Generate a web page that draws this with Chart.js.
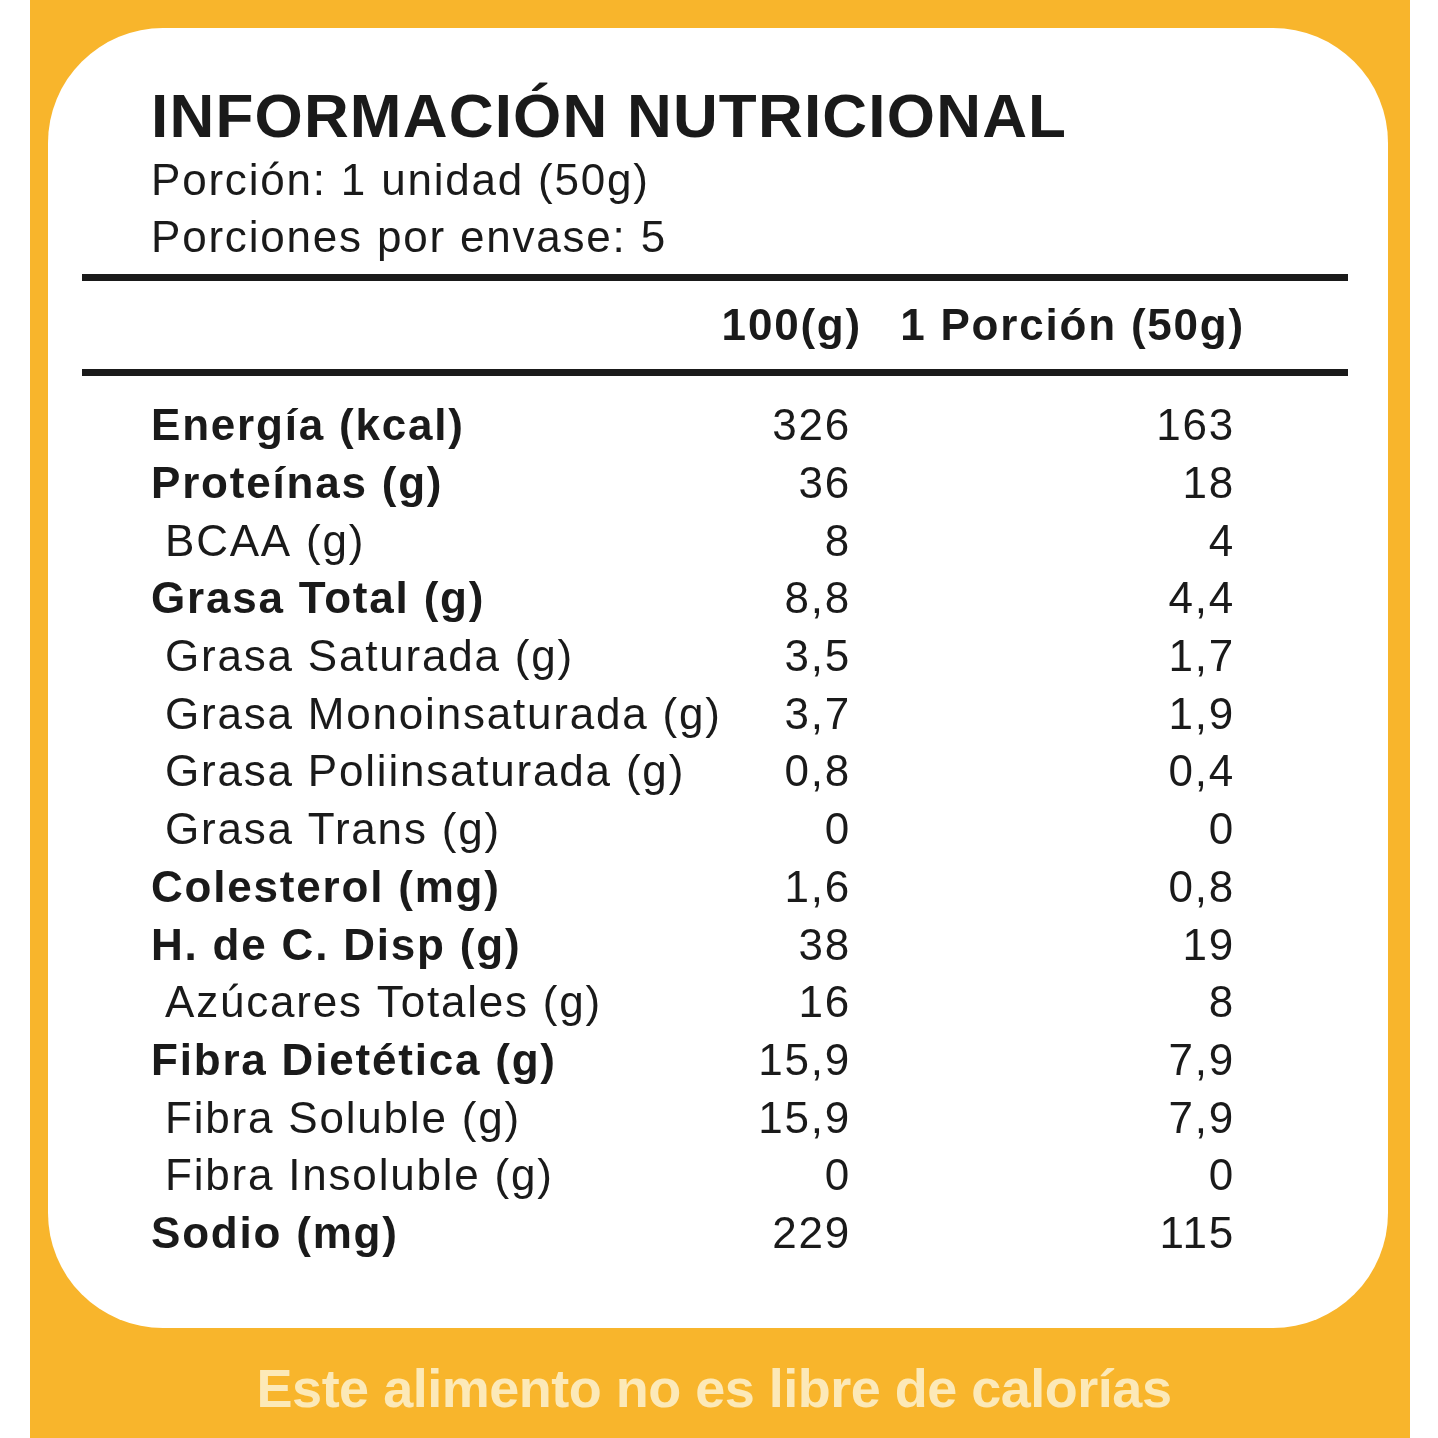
<!DOCTYPE html>
<html><head><meta charset="utf-8">
<script src="https://cdn.jsdelivr.net/npm/chart.js@4"></script>
<style>html,body{margin:0;padding:0;background:#fff}#w{width:1438px;height:1438px}</style>
</head><body><div id="w"><canvas id="c" width="1438" height="1438"></canvas></div>
<script>
const title = "INFORMACIÓN NUTRICIONAL";
const subtitle = ["Porción: 1 unidad (50g)", "Porciones por envase: 5"];
const columns = ["100(g)", "1 Porción (50g)"];
const nutrients = ["Energía (kcal)","Proteínas (g)","BCAA (g)","Grasa Total (g)","Grasa Saturada (g)","Grasa Monoinsaturada (g)","Grasa Poliinsaturada (g)","Grasa Trans (g)","Colesterol (mg)","H. de C. Disp (g)","Azúcares Totales (g)","Fibra Dietética (g)","Fibra Soluble (g)","Fibra Insoluble (g)","Sodio (mg)"];
const boldRows = [true,true,false,true,false,false,false,false,true,true,false,true,false,false,true];
const per100 = ["326","36","8","8,8","3,5","3,7","0,8","0","1,6","38","16","15,9","15,9","0","229"];
const perPortion = ["163","18","4","4,4","1,7","1,9","0,4","0","0,8","19","8","7,9","7,9","0","115"];
const footer = "Este alimento no es libre de calorías";

const F = "'Liberation Sans', Arial, sans-serif";
const ORANGE = "#F8B52C";

const plugin = {
  id: 'label',
  beforeDraw(chart){
    const ctx = chart.ctx;
    ctx.save();
    ctx.fillStyle = "#fff"; ctx.fillRect(0,0,1438,1438);
    ctx.fillStyle = ORANGE; ctx.fillRect(30,0,1380,1438);
    ctx.fillStyle = "#fff";
    ctx.beginPath(); ctx.roundRect(48,28,1340,1300,115); ctx.fill();
    ctx.restore();
  },
  afterDraw(chart){
    const ctx = chart.ctx, ys = chart.scales.y;
    ctx.save();
    ctx.fillStyle = "#1a1a1a"; ctx.textBaseline = "middle";
    ctx.letterSpacing = "1.2px";
    ctx.font = "bold 62px " + F; ctx.textAlign = "left";
    ctx.fillText(title, 151, 120);
    ctx.letterSpacing = "1.8px";
    ctx.font = "44px " + F;
    ctx.fillText(subtitle[0], 151, 183);
    ctx.fillText(subtitle[1], 151, 240);
    ctx.fillRect(82, 274, 1266, 7);
    ctx.fillRect(82, 369, 1266, 7);
    ctx.font = "bold 44px " + F; ctx.textAlign = "right";
    ctx.fillText(columns[0], 862, 328);
    ctx.fillText(columns[1], 1245, 328);
    nutrients.forEach((n,i)=>{
      const y = ys.getPixelForValue(i);
      ctx.textAlign = "left";
      ctx.font = (boldRows[i] ? "bold " : "") + "44px " + F;
      ctx.fillText(n, boldRows[i] ? 151 : 165, y);
      ctx.font = "44px " + F; ctx.textAlign = "right";
      ctx.fillText(per100[i], 851, y);
      ctx.fillText(perPortion[i], 1235, y);
    });
    ctx.letterSpacing = "-0.5px";
    ctx.fillStyle = "#FCE9B8"; ctx.textAlign = "center";
    ctx.font = "bold 54px " + F;
    ctx.fillText(footer, 714, 1392);
    ctx.restore();
  }
};

new Chart(document.getElementById('c'), {
  type: 'scatter',
  data: { labels: nutrients, datasets: [{ data: nutrients.map((n,i)=>({x:0,y:n})), pointRadius:0 }] },
  options: {
    responsive:false, animation:false, devicePixelRatio:1,
    layout:{ padding:{ top:428, bottom:202, left:0, right:0 } },
    plugins:{ legend:{display:false}, tooltip:{enabled:false} },
    scales:{
      x:{ type:'linear', min:0, max:1438, display:false },
      y:{ type:'category', labels:nutrients, offset:false, display:false }
    }
  },
  plugins:[plugin]
});
</script></body></html>
